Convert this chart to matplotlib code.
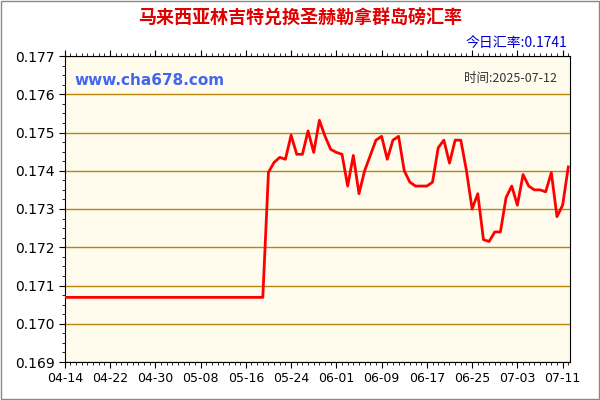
import matplotlib
matplotlib.use("Agg")
import matplotlib.pyplot as plt
import matplotlib.dates as mdates
from matplotlib.ticker import AutoMinorLocator
import numpy as np
import datetime as dt

plt.rcParams['font.family'] = ['Noto Sans CJK SC', 'DejaVu Sans']

flat = [0.17069, 0.17069, 0.17069, 0.17069, 0.17069, 0.17069, 0.17069, 0.17069, 0.17069,
        0.17069, 0.17069, 0.17069, 0.17069, 0.17069, 0.17069, 0.17069, 0.17069, 0.17069,
        0.17069, 0.17069, 0.17069, 0.17069, 0.17069, 0.17069, 0.17069, 0.17069, 0.17069,
        0.17069, 0.17069, 0.17069, 0.17069, 0.17069, 0.17069, 0.17069, 0.17069, 0.17069]
later = [0.17396, 0.17422, 0.17435, 0.17430, 0.17493, 0.17443, 0.17443, 0.17504, 0.17448,
         0.17532, 0.17490, 0.17456, 0.17448, 0.17443, 0.17360, 0.17440, 0.17340, 0.17400,
         0.17440, 0.17480, 0.17490, 0.17430, 0.17480, 0.17490, 0.17400, 0.17370, 0.17360,
         0.17360, 0.17360, 0.17370, 0.17460, 0.17480, 0.17420, 0.17480, 0.17480, 0.17400,
         0.17300, 0.17340, 0.17220, 0.17215, 0.17240, 0.17240, 0.17330, 0.17360, 0.17310,
         0.17390, 0.17360, 0.17350, 0.17350, 0.17345, 0.17395, 0.17280, 0.17310, 0.17410]
values = flat + later
start = dt.date(2025, 4, 14)
dates = [start + dt.timedelta(days=i) for i in range(len(values))]
tick_labels = ['04-14', '04-22', '04-30', '05-08', '05-16', '05-24', '06-01',
               '06-09', '06-17', '06-25', '07-03', '07-11']
ticks = [start + dt.timedelta(days=8 * i) for i in range(len(tick_labels))]

fig = plt.figure(figsize=(6, 4), dpi=100, facecolor='white')
ax = fig.add_axes([0.108, 0.095, 0.842, 0.765])
ax.set_facecolor('#FFFCEE')
ax.plot(dates, values, color='#FF0000', lw=2, zorder=3)
ax.set_xlim(mdates.date2num(start), mdates.date2num(dates[-1]) + 0.3)
ax.set_ylim(0.169, 0.177)
yt = np.arange(0.169, 0.17701, 0.001)
ax.set_yticks(yt)
ax.set_yticklabels([f'{v:.3f}' for v in yt], fontsize=10, family='DejaVu Sans')
ax.set_xticks(ticks)
ax.set_xticklabels(tick_labels, fontsize=9, family='DejaVu Sans')
ax.yaxis.set_minor_locator(AutoMinorLocator(4))
ax.xaxis.set_minor_locator(mdates.DayLocator())
ax.grid(True, axis='y', color='#B8860B', lw=1, zorder=1)
for s in ax.spines.values():
    s.set_color('#000000')
ax.tick_params(which='both', color='#000000', top=True)
ax.tick_params(which='major', length=4)
ax.tick_params(which='minor', length=2)
fig.text(0.5, 0.955, '马来西亚林吉特兑换圣赫勒拿群岛磅汇率', color='#E00000', fontsize=13, fontweight='bold', ha='center', va='center')
fig.text(0.945, 0.893, '今日汇率:0.1741', color='#0000CC', fontsize=10, ha='right', va='center')
ax.text(0.02, 0.905, 'www.cha678.com', transform=ax.transAxes, color='#4466EE', fontsize=11, fontweight='bold', family='DejaVu Sans')
ax.text(0.975, 0.915, '时间:2025-07-12', transform=ax.transAxes, color='#333333', fontsize=9, ha='right')
fig.add_artist(plt.Rectangle((0.002, 0.002), 0.996, 0.996, transform=fig.transFigure, fill=False, ec='#888888', lw=1))
fig.savefig('out.png', dpi=100)
